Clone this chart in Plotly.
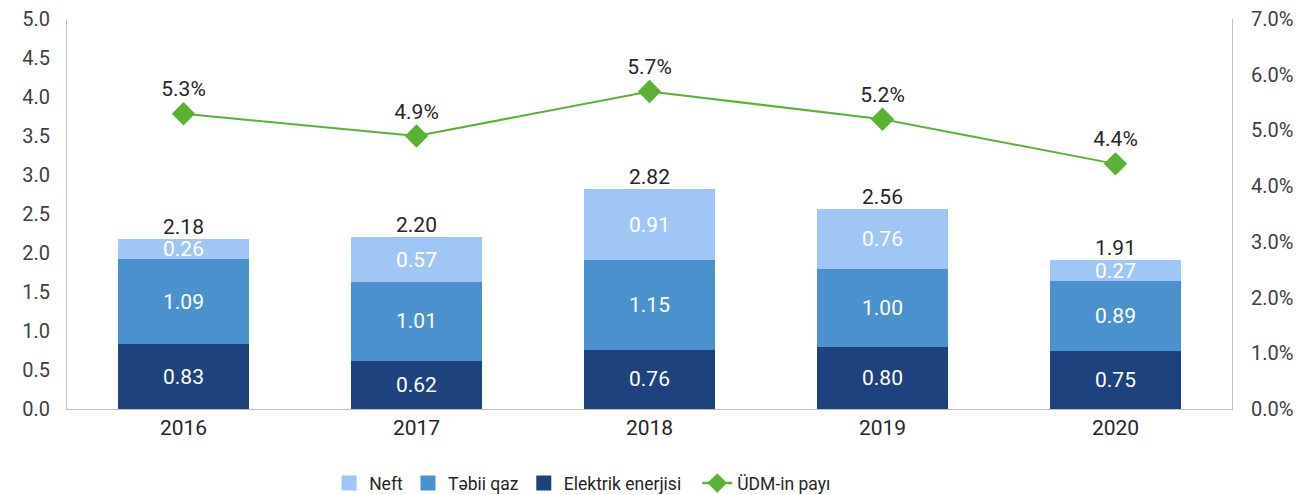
import plotly.graph_objects as go

years = ["2016", "2017", "2018", "2019", "2020"]
neft = [0.26, 0.57, 0.91, 0.76, 0.27]
tebii_qaz = [1.09, 1.01, 1.15, 1.00, 0.89]
elektrik = [0.83, 0.62, 0.76, 0.80, 0.75]
totals = [2.18, 2.20, 2.82, 2.56, 1.91]
udm_payi = [5.3, 4.9, 5.7, 5.2, 4.4]

FONT = "Roboto"
TXT = "#404040"
DARK = "#262626"
C_NEFT = "#A0C6F5"
C_QAZ = "#4B91CD"
C_ELEK = "#1E427E"
C_GREEN = "#5BB133"

fig = go.Figure()

def bar(name, vals, color):
    return go.Bar(
        x=years, y=vals, name=name, marker=dict(color=color, line=dict(width=0)),
        text=[f"{v:.2f}" for v in vals], textposition="inside",
        insidetextanchor="middle", constraintext="none",
        textfont=dict(color="white", size=21, family=FONT),
        width=0.56, showlegend=False, hoverinfo="skip",
    )

fig.add_trace(bar("Elektrik enerjisi", elektrik, C_ELEK))
fig.add_trace(bar("Təbii qaz", tebii_qaz, C_QAZ))
fig.add_trace(bar("Neft", neft, C_NEFT))

fig.add_trace(go.Scatter(
    x=years, y=totals, mode="text", text=[f"{v:.2f}" for v in totals],
    textposition="top center", textfont=dict(color=DARK, size=21, family=FONT),
    showlegend=False, hoverinfo="skip", cliponaxis=False,
))

fig.add_trace(go.Scatter(
    x=years, y=udm_payi, name="ÜDM-in payı", yaxis="y2",
    mode="lines+markers+text", text=[f"{v:.1f}%" for v in udm_payi],
    textposition="top center", textfont=dict(color=DARK, size=21, family=FONT),
    line=dict(color=C_GREEN, width=2),
    marker=dict(symbol="diamond", size=18, color=C_GREEN),
    showlegend=False, cliponaxis=False,
))

# legend entries
for i, (nm, col) in enumerate([("Neft", C_NEFT), ("Təbii qaz", C_QAZ), ("Elektrik enerjisi", C_ELEK)]):
    fig.add_trace(go.Scatter(
        x=[None], y=[None], mode="markers", name=nm,
        marker=dict(symbol="square", size=15, color=col), legendrank=i + 1,
    ))
fig.add_trace(go.Scatter(
    x=[None], y=[None], mode="lines+markers", name="ÜDM-in payı", yaxis="y2",
    line=dict(color=C_GREEN, width=2.5), marker=dict(symbol="diamond", size=15, color=C_GREEN),
    legend="legend2",
))

leg_font = dict(size=17.5, color=DARK, family=FONT)
fig.update_layout(
    width=1312, height=495,
    margin=dict(l=67, r=80, t=19, b=86, autoexpand=False),
    barmode="stack",
    plot_bgcolor="white", paper_bgcolor="white",
    font=dict(family=FONT, size=18, color=TXT),
    xaxis=dict(type="category", showline=True, linecolor="#BFBFBF", linewidth=1,
               ticks="", showgrid=False, tickfont=dict(size=21, color=DARK)),
    yaxis=dict(range=[0, 5], dtick=0.5, tickformat=".1f", showline=True,
               linecolor="#BFBFBF", showgrid=False, zeroline=False, ticks="",
               ticklabelstandoff=12, tickfont=dict(size=20, color=TXT)),
    yaxis2=dict(range=[0, 7], dtick=1, tickformat=".1f", ticksuffix="%",
                overlaying="y", side="right", showline=True, linecolor="#BFBFBF",
                showgrid=False, zeroline=False, ticks="", ticklabelstandoff=14,
                tickfont=dict(size=20, color=TXT)),
    legend=dict(orientation="h", x=0.225, xanchor="left", y=-0.19, yanchor="middle",
                font=leg_font, traceorder="normal"),
    legend2=dict(orientation="h", x=0.541, xanchor="left", y=-0.19, yanchor="middle",
                 font=leg_font),
    showlegend=True,
)

fig.write_html("out.html")
